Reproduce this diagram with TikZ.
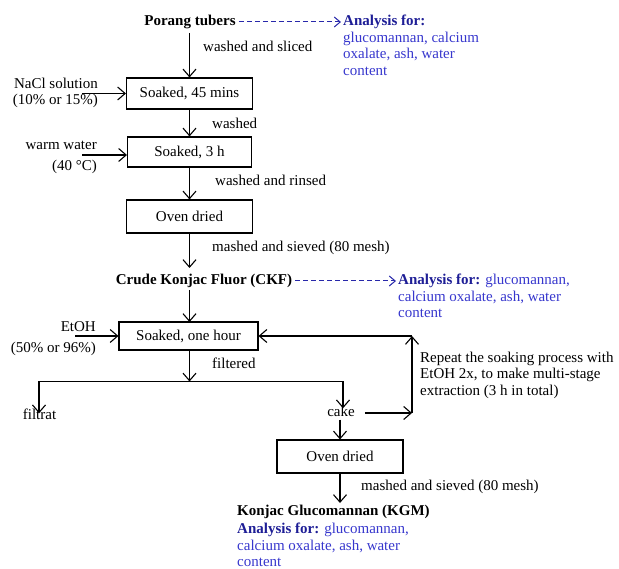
\documentclass[tikz,border=0pt]{standalone}
\usepackage{fontspec}
\setmainfont{Liberation Serif}
\usetikzlibrary{arrows.meta}
\definecolor{anbold}{RGB}{30,30,150}
\definecolor{anreg}{RGB}{55,55,205}
\definecolor{dashblue}{RGB}{40,40,170}
\tikzset{
  txt/.style={inner sep=0pt, font=\fontsize{15}{16.5}\selectfont},
  lab/.style={txt, text height=10pt, text depth=3pt},
  blk/.style={txt, align=left, anchor=north west},
  procbox/.style={draw, line width=1.1pt, inner sep=0pt, font=\fontsize{15}{16.5}\selectfont},
  arr/.style={line width=1.1pt, -{Straight Barb[length=7.5pt,width=13pt]}},
  dasharr/.style={dashblue, line width=1pt, dash pattern=on 5pt off 3pt, -{Straight Barb[length=6pt,width=10pt]}},
  ana/.style={blk, text=anreg}
}
\begin{document}
\begin{tikzpicture}[x=1pt,y=-1pt]
\useasboundingbox (0,0) rectangle (619,569);

% top part
\node[lab, font=\fontsize{15}{16.5}\selectfont\bfseries] (porang) at (190,22) {Porang tubers};
\node[ana] (anal1) at (343,15.2) {\fontsize{15}{15}\selectfont\textcolor{anbold}{\textbf{Analysis for:}}\\glucomannan, calcium\\oxalate, ash, water\\content};
\draw[dasharr] ([xshift=3pt]porang.east) -- ([xshift=-2pt]anal1.west |- porang.east);

\node[procbox, minimum width=126pt, minimum height=31pt] (box1) at (189.5,93.5) {Soaked, 45 mins};
\draw[arr] (box1.north |- 0,33) -- (box1.north);
\node[lab, anchor=west] (l1) at (203,48) {washed and sliced};

\node[txt, align=right, anchor=east] (nacl) at (98,93) {NaCl solution\\[0pt](10\% or 15\%)};
\coordinate (naclc) at (82,93.5);
\draw[arr] (naclc) -- (box1.west);

\node[procbox, minimum width=124pt, minimum height=30pt] (box2) at (189.5,152) {Soaked, 3 h};
\draw[arr] (box1.south) -- (box1.south |- box2.north);
\node[lab, anchor=west] (l2) at (212,125) {washed};

\node[txt, align=right, anchor=east] (warm) at (97,157.5) {warm water\\[4.5pt](40 °C)};
\coordinate (warmc) at (82,155);
\draw[arr] (warmc) -- (box2.west |- warmc);

\node[procbox, minimum width=126pt, minimum height=33pt] (oven1) at (189.5,216.5) {Oven dried};
\draw[arr] (box2.south) -- (box2.south |- oven1.north);
\node[lab, anchor=west] (l3) at (215,182) {washed and rinsed};

\node[lab, font=\fontsize{15}{16.5}\selectfont\bfseries] (ckf) at (204,281) {Crude Konjac Fluor (CKF)};
\draw[arr] (oven1.south) -- (oven1.south |- 0,268);
\node[lab, anchor=west] (l4) at (212,248) {mashed and sieved (80 mesh)};

\node[ana] (anal2) at (398,274.2) {\fontsize{15}{16}\selectfont\textcolor{anbold}{\textbf{Analysis for:}} glucomannan,\\calcium oxalate, ash, water\\content};
\draw[dasharr] ([xshift=3pt]ckf.east) -- ([xshift=-2pt]anal2.west |- ckf.east);

% extraction
\node[procbox, minimum width=139pt, minimum height=28pt] (soak) at (188.5,336) {Soaked, one hour};
\draw[arr] (189.5,290) -- (189.5,322);

\node[txt, align=right, anchor=east] (etoh) at (96,338.5) {EtOH\\[4.5pt](50\% or 96\%)};
\coordinate (etohc) at (75,336);
\draw[arr] (etohc) -- (soak.west);

\node[lab, anchor=west] (l5) at (212,365) {filtered};
\coordinate (j) at (189.5,381.5);
\draw[arr] (j |- soak.south) -- (j);

\node[lab] (filtrat) at (39.5,416) {filtrat};
\node[lab] (cake) at (341,413) {cake};
\draw[arr] (j) -- (39,381.5) -- ([yshift=-4pt]filtrat.north -| 39,0);
\draw[arr] (j) -- (343,381.5) -- ([yshift=-2pt]cake.north -| 343,0);

\coordinate (rb) at (412,413);
\coordinate (rt) at (412,336);
\draw[arr] ([xshift=10pt]cake.east) -- (rb);
\draw[arr] (rb) -- (rt);
\draw[arr] (rt) -- (soak.east);

\node[blk] (repeat) at (420,351.5) {Repeat the soaking process with\\EtOH 2x, to make multi-stage\\extraction (3 h in total)};

\node[procbox, minimum width=126pt, minimum height=33pt] (oven2) at (340,456.5) {Oven dried};
\draw[arr] (cake.south -| oven2.north) -- (oven2.north);

\node[lab, font=\fontsize{15}{16.5}\selectfont\bfseries, anchor=west] (kgm) at (237,512) {Konjac Glucomannan (KGM)};
\draw[arr] (oven2.south) -- (oven2.south |- 0,503);
\node[lab, anchor=west] (l6) at (361,487) {mashed and sieved (80 mesh)};

\node[ana] (anal3) at (237,523) {\fontsize{15}{15.6}\selectfont\textcolor{anbold}{\textbf{Analysis for:}} glucomannan,\\calcium oxalate, ash, water\\content};
\end{tikzpicture}
\end{document}
